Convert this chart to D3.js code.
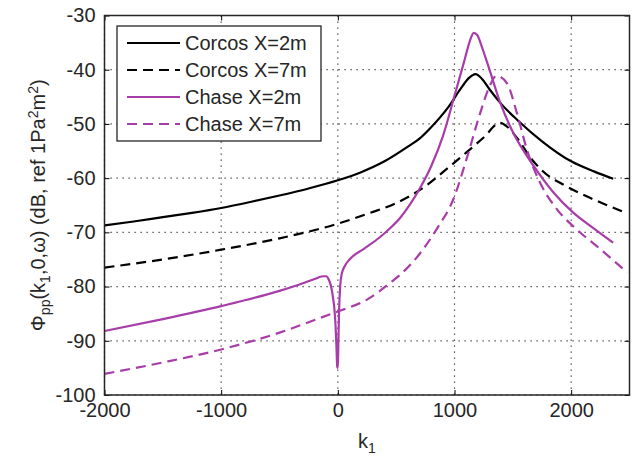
<!DOCTYPE html>
<html>
<head>
<meta charset="utf-8">
<script src="https://cdn.jsdelivr.net/npm/d3@7"></script>
<style>
  body { margin: 0; background: #fff; }
  text { font-family: "Liberation Sans", Arial, sans-serif; fill: #262626; }
</style>
</head>
<body>
<script>
// wavenumber samples (k1) and levels (dB)
var corcos2K = [-2000, -1750, -1500, -1250, -1000, -750, -500, -250, 0, 200, 400, 600, 700, 800, 950, 1050, 1120, 1180, 1240, 1300, 1400, 1550, 1750, 2000, 2200, 2360];
var corcos2Y = [-68.7, -68.0, -67.2, -66.4, -65.5, -64.4, -63.2, -61.9, -60.4, -58.9, -56.9, -54.2, -52.7, -50.6, -46.8, -43.6, -41.6, -40.8, -41.8, -43.6, -46.3, -49.5, -53.2, -56.9, -58.8, -60.1];

var corcos7K = [-2000, -1500, -1000, -500, 0, 250, 500, 750, 950, 1100, 1250, 1390, 1450, 1550, 1650, 1750, 1950, 2200, 2480];
var corcos7Y = [-76.5, -75.0, -73.2, -71.1, -68.4, -66.6, -64.6, -61.5, -58.0, -55.3, -52.5, -49.8, -50.5, -53.0, -56.2, -58.6, -61.4, -64.0, -66.5];

var chase2K = [-2000, -1500, -1000, -500, -300, -200, -130, -100, -80, -60, -45, -30, -20, -12, -5, 0, 5, 10, 20, 35, 60, 100, 220, 360, 450, 535, 620, 700, 800, 900, 1000, 1080, 1130, 1165, 1195, 1230, 1300, 1390, 1500, 1680, 1850, 2020, 2190, 2360];
var chase2Y = [-88.2, -86.0, -83.6, -80.8, -79.4, -78.6, -78.1, -78.1, -78.6, -79.8, -81.5, -84.0, -87.0, -91.0, -94.8, -95.0, -90.0, -85.0, -80.0, -77.5, -76.2, -75.0, -73.1, -70.9, -69.2, -67.3, -64.8, -62.0, -57.8, -52.3, -44.8, -38.7, -34.8, -33.2, -33.6, -35.5, -40.0, -46.0, -51.5, -57.8, -62.7, -66.4, -69.2, -71.9];

var chase7K = [-2000, -1500, -1000, -500, -65, 0, 250, 450, 535, 700, 850, 990, 1110, 1220, 1300, 1360, 1450, 1535, 1620, 1735, 1880, 2050, 2250, 2480];
var chase7Y = [-96.1, -94.0, -91.6, -88.5, -85.1, -84.6, -82.4, -79.3, -77.8, -74.0, -69.3, -63.9, -56.0, -48.0, -43.1, -41.1, -42.5, -48.0, -54.7, -60.9, -65.8, -69.5, -73.1, -77.4];

var seriesNames = ["Corcos X=2m", "Corcos X=7m", "Chase X=2m", "Chase X=7m"];
var xTicks = [-2000, -1000, 0, 1000, 2000];
var yTicks = [-100, -90, -80, -70, -60, -50, -40, -30];

var series = [
  {name: seriesNames[0], k: corcos2K, y: corcos2Y, color: "#000", dash: null},
  {name: seriesNames[1], k: corcos7K, y: corcos7Y, color: "#000", dash: "10,6"},
  {name: seriesNames[2], k: chase2K, y: chase2Y, color: "#a83ca8", dash: null},
  {name: seriesNames[3], k: chase7K, y: chase7Y, color: "#a83ca8", dash: "10,6"}
];

// plain hyphen-minus labels, no thousands separator
var fmt = function(d) { return String(d); };

// plot box
var margin = {top: 15.5, right: 7.5, bottom: 61, left: 104.5},
    width = 637 - margin.left - margin.right,
    height = 456 - margin.top - margin.bottom;

var x = d3.scaleLinear().domain([-2000, 2500]).range([0, width]);
var y = d3.scaleLinear().domain([-100, -30]).range([height, 0]);

var svg = d3.select("body").append("svg")
    .attr("width", 637)
    .attr("height", 456)
  .append("g")
    .attr("transform", "translate(" + margin.left + "," + margin.top + ")");

// dotted grid
svg.append("g")
  .selectAll("line")
  .data(xTicks)
  .enter().append("line")
    .attr("x1", function(d) { return x(d); })
    .attr("x2", function(d) { return x(d); })
    .attr("y1", 0).attr("y2", height)
    .attr("stroke", "#333").attr("stroke-width", 1.2)
    .attr("stroke-dasharray", "1.2,4.8");

svg.append("g")
  .selectAll("line")
  .data(yTicks)
  .enter().append("line")
    .attr("x1", 0).attr("x2", width)
    .attr("y1", function(d) { return y(d); })
    .attr("y2", function(d) { return y(d); })
    .attr("stroke", "#333").attr("stroke-width", 1.2)
    .attr("stroke-dasharray", "1.2,4.8");

// curves
var line = d3.line()
    .x(function(d) { return x(d[0]); })
    .y(function(d) { return y(d[1]); })
    .curve(d3.curveMonotoneX);

series.forEach(function(s) {
  svg.append("path")
      .datum(d3.zip(s.k, s.y))
      .attr("fill", "none")
      .attr("stroke", s.color)
      .attr("stroke-width", 2.2)
      .attr("stroke-dasharray", s.dash)
      .attr("d", line);
});

// axes, ticks inward on all sides
var tickLen = 5;
svg.append("g")
    .attr("transform", "translate(0," + height + ")")
    .call(d3.axisBottom(x).tickValues(xTicks).tickFormat(fmt).tickSizeInner(-tickLen).tickSizeOuter(0).tickPadding(8))
    .call(function(g) {
      g.select(".domain").remove();
      g.selectAll("text").attr("font-size", 20).attr("fill", "#262626")
        .attr("font-family", "Liberation Sans, Arial, sans-serif");
    });
svg.append("g")
    .call(d3.axisTop(x).tickValues(xTicks).tickSizeInner(-tickLen).tickSizeOuter(0).tickFormat(""))
    .call(function(g) { g.select(".domain").remove(); });
svg.append("g")
    .call(d3.axisLeft(y).tickValues(yTicks).tickFormat(fmt).tickSizeInner(-tickLen).tickSizeOuter(0).tickPadding(9))
    .call(function(g) {
      g.select(".domain").remove();
      g.selectAll("text").attr("font-size", 20).attr("fill", "#262626")
        .attr("font-family", "Liberation Sans, Arial, sans-serif");
    });
svg.append("g")
    .attr("transform", "translate(" + width + ",0)")
    .call(d3.axisRight(y).tickValues(yTicks).tickSizeInner(-tickLen).tickSizeOuter(0).tickFormat(""))
    .call(function(g) { g.select(".domain").remove(); });

svg.append("rect")
    .attr("width", width).attr("height", height)
    .attr("fill", "none").attr("stroke", "#262626").attr("stroke-width", 1.5);

// legend
var legend = svg.append("g").attr("transform", "translate(12.5,10.5)");
legend.append("rect")
    .attr("width", 204).attr("height", 115)
    .attr("fill", "#fff").attr("stroke", "#262626").attr("stroke-width", 1.3);
series.forEach(function(s, i) {
  var row = legend.append("g").attr("transform", "translate(0," + (17 + i * 27) + ")");
  row.append("line")
      .attr("x1", 10).attr("x2", 63)
      .attr("stroke", s.color).attr("stroke-width", 2.2)
      .attr("stroke-dasharray", s.dash);
  row.append("text")
      .attr("x", 68).attr("y", 0)
      .attr("dy", "0.35em")
      .attr("font-size", 20)
      .text(s.name);
});

// axis labels
svg.append("text")
    .attr("x", width / 2).attr("y", height + 37 + 16)
    .attr("text-anchor", "middle")
    .attr("font-size", 20)
    .html('k<tspan dy="5" font-size="14">1</tspan>');

svg.append("text")
    .attr("transform", "translate(" + (-60) + "," + (height / 2) + ") rotate(-90)")
    .attr("text-anchor", "middle")
    .attr("font-size", 20)
    .html('\u03A6<tspan dy="5" font-size="14">pp</tspan><tspan dy="-5">(k</tspan><tspan dy="5" font-size="14">1</tspan><tspan dy="-5">,0,\u03C9) (dB, ref 1Pa</tspan><tspan dy="-7" font-size="14">2</tspan><tspan dy="7">m</tspan><tspan dy="-7" font-size="14">2</tspan><tspan dy="7">)</tspan>');
</script>
</body>
</html>
